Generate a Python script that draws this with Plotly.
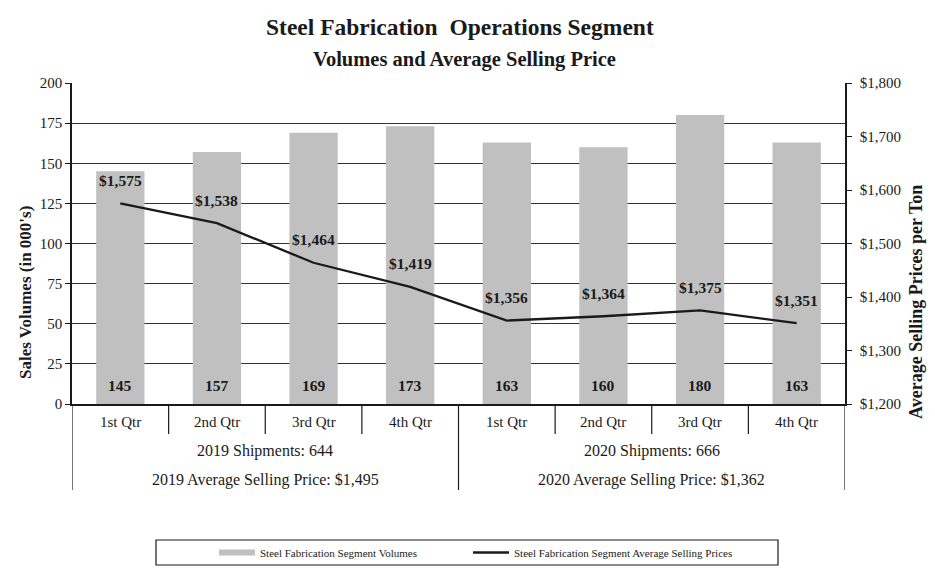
import plotly.graph_objects as go

quarters = ["1st Qtr", "2nd Qtr", "3rd Qtr", "4th Qtr", "1st Qtr", "2nd Qtr", "3rd Qtr", "4th Qtr"]
volumes = [145, 157, 169, 173, 163, 160, 180, 163]
prices = [1575, 1538, 1464, 1419, 1356, 1364, 1375, 1351]
years = ["2019", "2020"]
year_shipments = [644, 666]
year_prices = [1495, 1362]

FONT = "Liberation Serif"
INK = "#1a1a1a"
OFF = 8  # page body margin
# plot area in page pixels
PL, PR, PT, PB = 72, 845, 83, 404
W, H = 935 - OFF, 575 - OFF
ML, MT = PL - OFF, PT - OFF
MR, MB = W - (PR - OFF), H - (PB - OFF)
PH, PW = PB - PT, PR - PL

def py(Y):
    return (PB - Y) / PH

def px(X):
    return (X - PL) / PW

x = list(range(len(quarters)))

fig = go.Figure()

fig.add_trace(go.Scatter(
    x=[None], y=[None], mode="lines", name="Steel Fabrication Segment Volumes",
    line=dict(color="#c0c0c0", width=6), showlegend=True, hoverinfo="skip", legend="legend"))

fig.add_trace(go.Bar(
    x=x, y=volumes, width=0.5, marker=dict(color="#c0c0c0", line=dict(width=0)),
    name="Steel Fabrication Segment Volumes", showlegend=False, yaxis="y"))

fig.add_trace(go.Scatter(
    x=x, y=prices, mode="lines", name="Steel Fabrication Segment Average Selling Prices",
    line=dict(color=INK, width=2.3), yaxis="y2", legend="legend2"))

annotations = []
for i, (v, p) in enumerate(zip(volumes, prices)):
    annotations.append(dict(x=i, y=0, xref="x", yref="y", text=f"<b>{v}</b>", showarrow=False,
                            yshift=19, yanchor="middle", font=dict(family=FONT, size=15.5, color=INK)))
    annotations.append(dict(x=i, y=p, xref="x", yref="y2", text=f"<b>${p:,}</b>", showarrow=False,
                            yshift=23, yanchor="middle", font=dict(family=FONT, size=15.5, color=INK)))
    annotations.append(dict(x=i, y=py(422), xref="x", yref="paper", text=quarters[i], showarrow=False,
                            yanchor="middle", font=dict(family=FONT, size=15, color=INK)))

for k, yr in enumerate(years):
    cx = 1.5 + 4 * k
    annotations.append(dict(x=cx, y=py(451), xref="x", yref="paper", text=f"{yr} Shipments: {year_shipments[k]}",
                            showarrow=False, yanchor="middle", font=dict(family=FONT, size=16, color=INK)))
    annotations.append(dict(x=cx, y=py(480), xref="x", yref="paper",
                            text=f"{yr} Average Selling Price: ${year_prices[k]:,}",
                            showarrow=False, yanchor="middle", font=dict(family=FONT, size=16, color=INK)))

annotations.append(dict(x=px(460), y=py(27), xref="paper", yref="paper",
                        text="<b>Steel Fabrication  Operations Segment</b>", showarrow=False,
                        yanchor="middle", font=dict(family=FONT, size=23.5, color=INK)))
annotations.append(dict(x=px(464), y=py(59), xref="paper", yref="paper",
                        text="<b>Volumes and Average Selling Price</b>", showarrow=False,
                        yanchor="middle", font=dict(family=FONT, size=20.5, color=INK)))
annotations.append(dict(x=px(25), y=py(293), xref="paper", yref="paper", textangle=-90,
                        text="<b>Sales Volumes (in 000's)</b>", showarrow=False,
                        xanchor="center", yanchor="middle", font=dict(family=FONT, size=17, color=INK)))
annotations.append(dict(x=px(916), y=py(302), xref="paper", yref="paper", textangle=-90,
                        text="<b>Average Selling Prices per Ton</b>", showarrow=False,
                        xanchor="center", yanchor="middle", font=dict(family=FONT, size=18, color=INK)))

shapes = []
line_style = dict(color=INK, width=1.2)
for b in [0.5, 1.5, 2.5, 4.5, 5.5, 6.5]:
    shapes.append(dict(type="line", xref="x", yref="paper", x0=b, x1=b, y0=0, y1=py(434), line=line_style))
for b in [-0.5, 3.5, 7.5]:
    shapes.append(dict(type="line", xref="x", yref="paper", x0=b, x1=b, y0=0, y1=py(490), line=line_style))
shapes.append(dict(type="rect", xref="paper", yref="paper", x0=px(156), x1=px(778), y0=py(565), y1=py(540),
                   line=dict(color=INK, width=1.2), fillcolor="rgba(0,0,0,0)"))

legend_common = dict(orientation="h", xanchor="left", y=py(552.5), yanchor="middle",
                     font=dict(family=FONT, size=11, color=INK), bgcolor="rgba(0,0,0,0)",
                     borderwidth=0, itemwidth=36)

fig.update_layout(
    width=W, height=H,
    margin=dict(l=ML, r=MR, t=MT, b=MB, autoexpand=False),
    paper_bgcolor="white", plot_bgcolor="white",
    font=dict(family=FONT, size=15, color=INK),
    showlegend=True,
    legend=dict(x=px(214), **legend_common),
    legend2=dict(x=px(468), **legend_common),
    xaxis=dict(range=[-0.5, 7.5], showticklabels=False, ticks="", showgrid=False, zeroline=False,
               showline=True, linecolor=INK, linewidth=1.5, fixedrange=True),
    yaxis=dict(range=[0, 200], dtick=25, tick0=0, ticks="outside", ticklen=5, tickcolor=INK,
               showline=True, linecolor=INK, linewidth=1.5, showgrid=True, gridcolor="#333333",
               gridwidth=1.2, zeroline=False, tickfont=dict(family=FONT, size=15)),
    yaxis2=dict(range=[1200, 1800], dtick=100, tick0=1200, overlaying="y", side="right",
                ticks="outside", ticklen=5, tickcolor=INK, tickprefix="$", tickformat=",",
                showline=True, linecolor=INK, linewidth=1.5, showgrid=False, zeroline=False,
                ticklabelstandoff=5, tickfont=dict(family=FONT, size=15)),
    annotations=annotations,
    shapes=shapes,
    bargap=0.5,
)

fig.write_html("out.html")
